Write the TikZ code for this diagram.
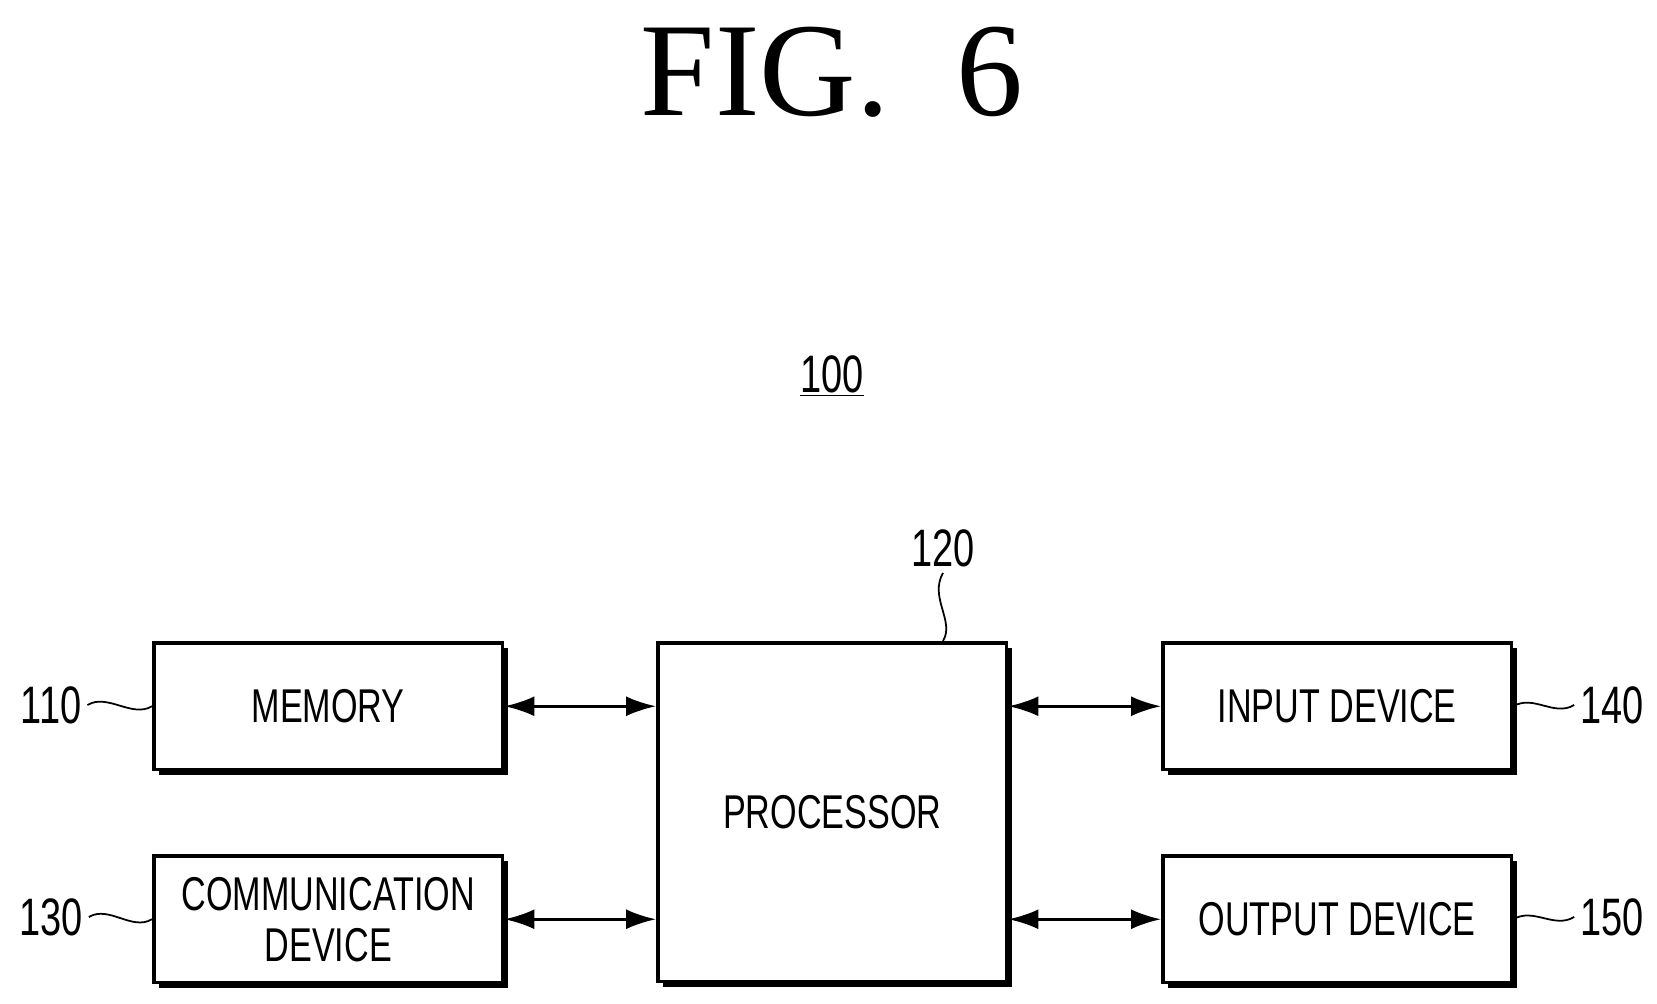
\documentclass[tikz,border=0pt]{standalone}
\usepackage{fontspec}
\setmainfont{Liberation Serif}
\setsansfont{Liberation Sans}
\usetikzlibrary{shadows}
\usetikzlibrary{arrows.meta}
\newcommand{\narrow}[1]{\scalebox{0.72}[1]{#1}}
\tikzset{
  block/.style={draw,line width=2pt,fill=white,minimum width=6.98cm,minimum height=2.54cm,
    align=center,font=\sffamily\fontsize{27}{31}\selectfont,
    drop shadow={shadow xshift=0.1cm,shadow yshift=-0.1cm,fill=black,opacity=1}},
  link/.style={line width=1.6pt,{Latex[length=0.6cm,width=0.4cm]}-{Latex[length=0.6cm,width=0.4cm]}},
  tag/.style={font=\sffamily\fontsize{30}{34}\selectfont},
  lead/.style={line width=1pt}
}
\begin{document}
\begin{tikzpicture}[x=0.02cm,y=-0.02cm]
  \useasboundingbox (0,0) rectangle (1657,1004);
  \node[font=\fontsize{76}{80}\selectfont] (fig) at (832,72) {FIG.~~6};
  \node[tag] (sys) at (832,376) {\narrow{\underline{100}}};
  % blocks
  \node[block,anchor=north west] (mem) at (152,641) {\narrow{MEMORY}};
  \node[block,anchor=north west] (com) at (152,854) {\narrow{COMMUNICATION}\\[-2pt]\narrow{DEVICE}};
  \node[block,anchor=north west,minimum height=6.78cm] (proc) at (656,641) {\narrow{PROCESSOR}};
  \node[block,anchor=north west] (inp) at (1161,641) {\narrow{INPUT DEVICE}};
  \node[block,anchor=north west] (out) at (1161,854) {\narrow{OUTPUT DEVICE}};
  % connectors
  \draw[link] (mem.east) -- (mem.east -| proc.west);
  \draw[link] (com.east) -- (com.east -| proc.west);
  \draw[link] (inp.west -| proc.east) -- (inp.west);
  \draw[link] (out.west -| proc.east) -- (out.west);
  % reference numerals
  \node[tag] (n110) at (51,705) {\narrow{110}};
  \node[tag] (n130) at (51,917) {\narrow{130}};
  \node[tag] (n140) at (1612,705) {\narrow{140}};
  \node[tag] (n150) at (1612,917) {\narrow{150}};
  \node[tag] (n120) at (943,548) {\narrow{120}};
  \draw[lead] (n110.east) .. controls +(20,-12) and +(-20,12) .. (mem.west);
  \draw[lead] (n130.east) .. controls +(20,-12) and +(-20,12) .. (com.west);
  \draw[lead] (inp.east) .. controls +(20,-12) and +(-20,12) .. (n140.west);
  \draw[lead] (out.east) .. controls +(20,-12) and +(-20,12) .. (n150.west);
  \draw[lead] (n120.south) .. controls +(-14,25) and +(12,-20) .. (proc.north -| n120.south);
\end{tikzpicture}
\end{document}
